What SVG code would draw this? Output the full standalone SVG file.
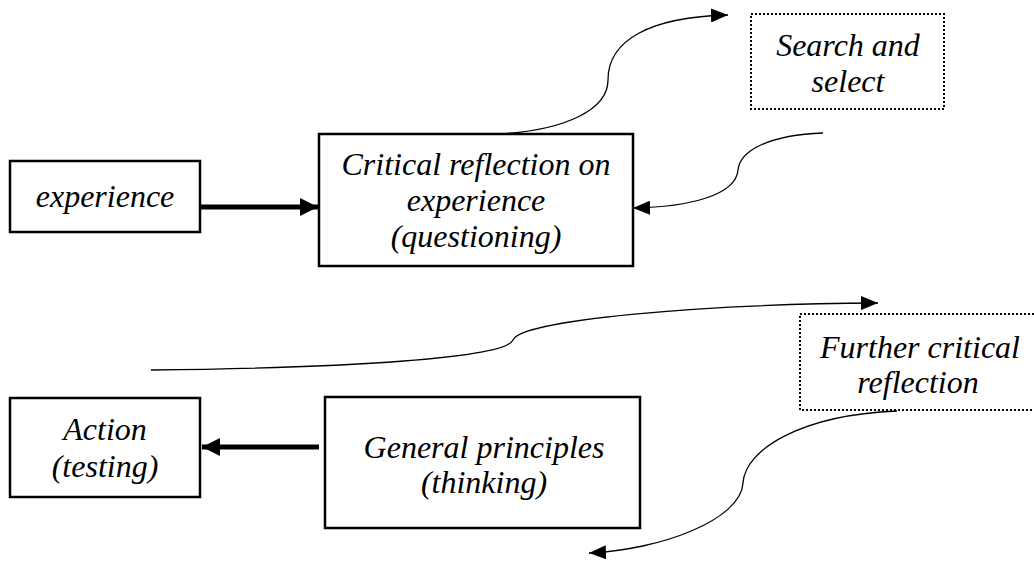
<svg xmlns="http://www.w3.org/2000/svg" width="1034" height="563" viewBox="0 0 1034 563" font-family="Liberation Serif" font-style="italic">
<style>
.box{fill:#fff;stroke:#000;stroke-width:2.5}
.dot{fill:#fff;stroke:#000;stroke-width:2;stroke-dasharray:2 2}
.thick{fill:none;stroke:#000;stroke-width:5}
.thin{fill:none;stroke:#000;stroke-width:1.3}
text{font-family:'Liberation Serif','Times New Roman',serif !important;font-style:italic !important;font-size:32px;fill:#000;text-anchor:middle}
</style>
<defs>
<marker id="ah" markerUnits="userSpaceOnUse" markerWidth="20" markerHeight="18" refX="18" refY="9" orient="auto">
<path d="M0 0 L18 9 L0 18 Z" fill="#000"/>
</marker>
<marker id="ahs" markerUnits="userSpaceOnUse" markerWidth="20" markerHeight="14" refX="17" refY="7" orient="auto">
<path d="M0 0 L17 7 L0 14 Z" fill="#000"/>
</marker>
</defs>
<rect width="1034" height="563" fill="#fff"/>
<g id="connectors">
<line class="thick" x1="200" y1="207" x2="318" y2="207" marker-end="url(#ah)"/>
<line class="thick" x1="319" y1="447" x2="202" y2="447" marker-end="url(#ah)"/>
<path class="thin" d="M 500 134 C 565 130 608 110 608 80 C 608 40 650 17 728 15" marker-end="url(#ahs)"/>
<path class="thin" d="M 823 133 C 770 135 740 150 738 170 C 736 195 690 207 633 208" marker-end="url(#ahs)"/>
<path class="thin" d="M 151 370 C 350 368 505 358 513 340 C 521 320 700 304 878 303" marker-end="url(#ahs)"/>
<path class="thin" d="M 897 411 C 800 415 745 450 743 483 C 741 520 660 550 589 553" marker-end="url(#ahs)"/>
</g>
<g id="experience">
<rect class="box" x="10" y="161" width="190" height="71"/>
<text x="105" y="207" style="font-family:'Liberation Serif',serif;font-style:italic">experience</text>
</g>
<g id="critical">
<rect class="box" x="319" y="134" width="314" height="132"/>
<text x="476" y="175" style="font-family:'Liberation Serif',serif;font-style:italic">Critical reflection on</text>
<text x="476" y="211" style="font-family:'Liberation Serif',serif;font-style:italic">experience</text>
<text x="476" y="247" style="font-family:'Liberation Serif',serif;font-style:italic">(questioning)</text>
</g>
<g id="search">
<rect class="dot" x="751" y="14" width="193" height="95"/>
<text x="848" y="56" style="font-family:'Liberation Serif',serif;font-style:italic">Search and</text>
<text x="848" y="92" style="font-family:'Liberation Serif',serif;font-style:italic">select</text>
</g>
<g id="further">
<rect class="dot" x="800" y="314" width="250" height="96"/>
<text x="920" y="358" style="font-family:'Liberation Serif',serif;font-style:italic">Further critical</text>
<text x="918" y="393" style="font-family:'Liberation Serif',serif;font-style:italic">reflection</text>
</g>
<g id="action">
<rect class="box" x="10" y="398" width="190" height="99"/>
<text x="105" y="440" style="font-family:'Liberation Serif',serif;font-style:italic">Action</text>
<text x="105" y="477" style="font-family:'Liberation Serif',serif;font-style:italic">(testing)</text>
</g>
<g id="general">
<rect class="box" x="325" y="397" width="315" height="131"/>
<text x="484" y="458" style="font-family:'Liberation Serif',serif;font-style:italic">General principles</text>
<text x="484" y="493" style="font-family:'Liberation Serif',serif;font-style:italic">(thinking)</text>
</g>
</svg>
